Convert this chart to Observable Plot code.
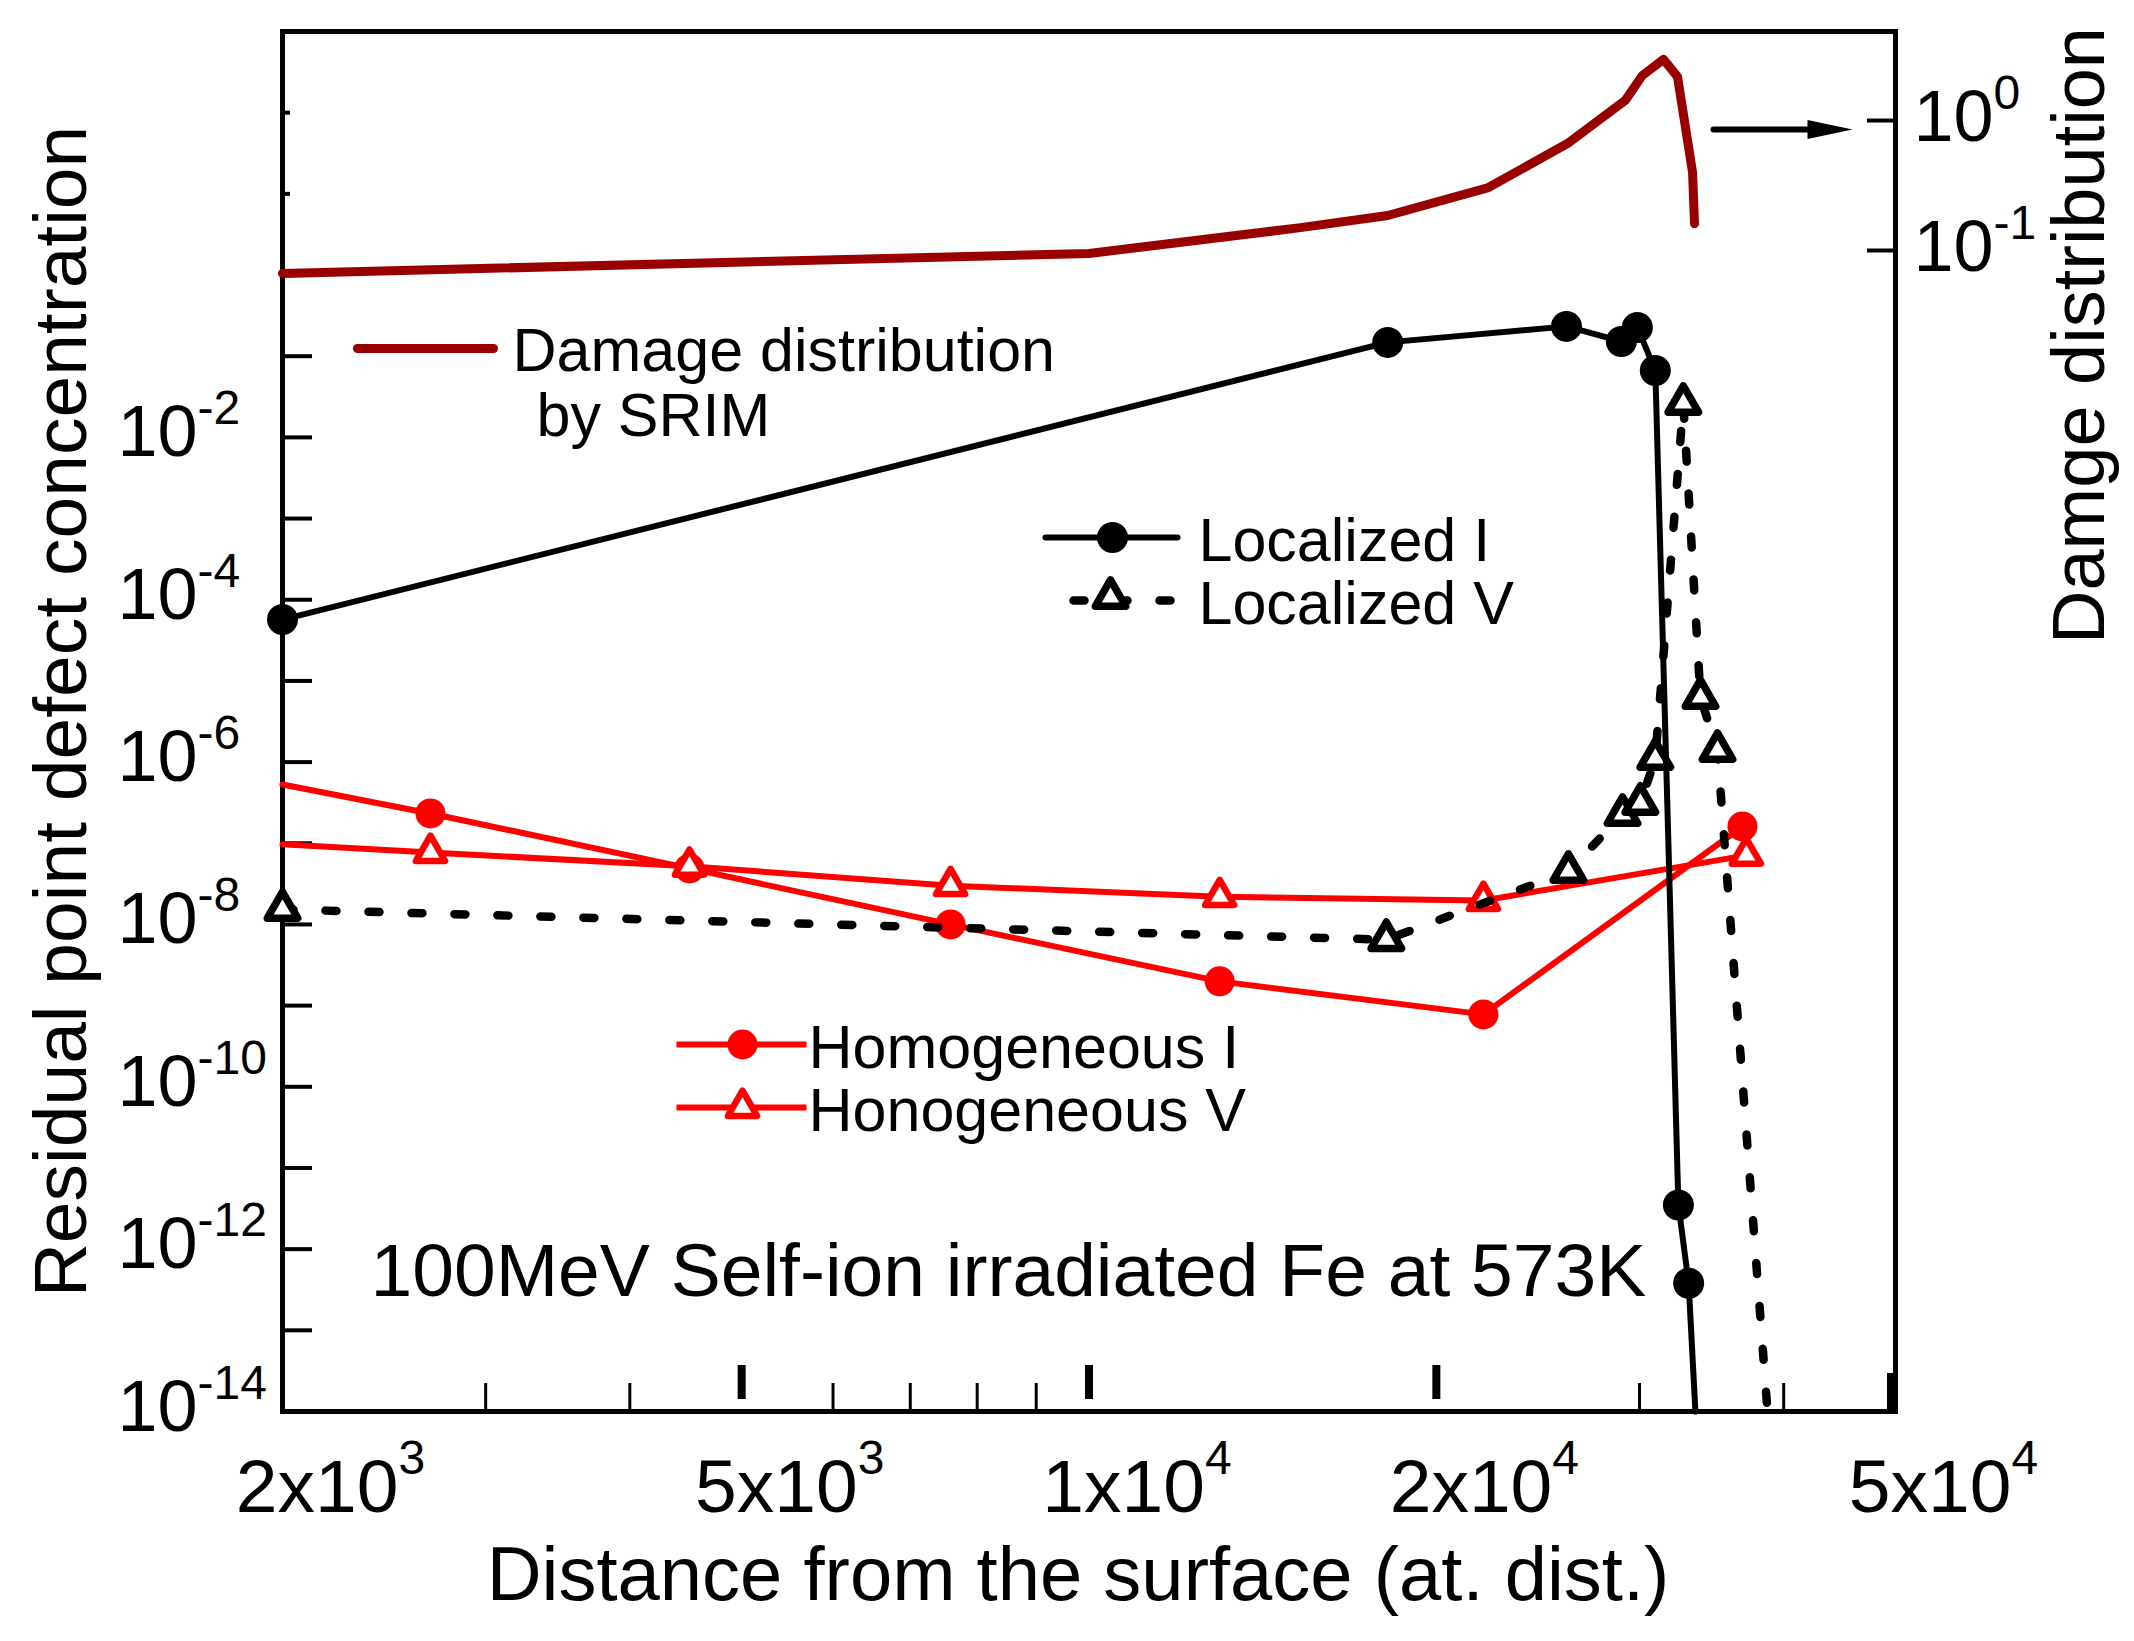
<!DOCTYPE html>
<html>
<head>
<meta charset="utf-8">
<script src="https://cdn.jsdelivr.net/npm/d3@7"></script>
<script src="https://cdn.jsdelivr.net/npm/@observablehq/plot@0.6"></script>
<style>
  html, body { margin: 0; padding: 0; background: #fff; }
  svg { display: block; }
</style>
</head>
<body>
<div id="chart"></div>
<script>
// ---------------- data ----------------
// Damage distribution by SRIM (right axis)
const damageX = [2000, 10000, 15250, 18150, 22190, 25980, 29160, 30170, 31470, 32360, 33350, 33480];
const damageY = [0.0666, 0.0948, 0.150, 0.186, 0.305, 0.665, 1.43, 2.22, 2.95, 2.18, 0.398, 0.161];

// Localized I (last point = where the line leaves the axis, no marker)
const locIX = [2000, 18150, 25930, 28930, 29870, 30960, 32420, 33090, 33540];
const locIY = [5.7e-5, 0.148, 0.233, 0.152, 0.226, 0.0668, 3.5e-12, 3.8e-13, 1e-14];

// Localized V (last point = where the line leaves the axis, no marker)
const locVX = [2000, 18100, 26030, 29000, 30050, 30960, 32740, 33880, 35050, 38730];
const locVY = [1.53e-8, 6.5e-9, 4.5e-8, 2.26e-7, 3.1e-7, 1.11e-6, 0.0262, 6.25e-6, 1.39e-6, 1e-14];

// Homogeneous I / V (first point = line start at the axis, no marker)
const homIX = [2000, 2687, 4506, 7586, 12980, 21970, 36840];
const homIY = [5.3e-7, 2.33e-7, 4.9e-8, 1.0e-8, 1.99e-9, 7.8e-10, 1.61e-7];
const homVX = [2000, 2687, 4506, 7586, 12980, 21970, 37130];
const homVY = [9.7e-8, 7.7e-8, 5.2e-8, 3.0e-8, 2.2e-8, 1.97e-8, 7.1e-8];

// axes
const xDomain = [2000, 50000];
const yDomain = [1e-14, 1e3];
const rightDomain = [1.17e-10, 4.84];
const xTickValues = [2000, 5000, 10000, 20000, 50000];
const xTickLabels = ["2x10^3", "5x10^3", "1x10^4", "2x10^4", "5x10^4"];
const xMajorTicks = [5000, 10000, 20000];
const xCornerTicks = [50000];
const xMinorTicks = [3000, 4000, 6000, 7000, 8000, 9000, 30000, 40000];
const yTickValues = [1e-14, 1e-12, 1e-10, 1e-8, 1e-6, 1e-4, 1e-2];
const yTickLabels = ["10^-14", "10^-12", "10^-10", "10^-8", "10^-6", "10^-4", "10^-2"];
const yLongTicks = [1e-14,1e-13,1e-12,1e-11,1e-10,1e-9,1e-8,1e-7,1e-6,1e-5,1e-4,1e-3,1e-2,1e-1];
const yShortTicks = [1, 10, 100];
const rightTickValues = [1, 0.1];
const rightTickLabels = ["10^0", "10^-1"];

// ---------------- layout ----------------
const W = 2134, H = 1641;
const mL = 282, mR = 239, mT = 31, mB = 230;
const innerW = W - mL - mR, innerH = H - mT - mB;
const FONT = '"Liberation Sans", Arial, Helvetica, sans-serif';

// map right-axis (damage) values into the left log scale
const lg = Math.log10;
const toLeft = d => Math.pow(10, lg(yDomain[0]) +
  (lg(d) - lg(rightDomain[0])) / (lg(rightDomain[1]) - lg(rightDomain[0])) * (lg(yDomain[1]) - lg(yDomain[0])));

const rows = (xs, ys) => xs.map((x, i) => ({x, y: ys[i], i, n: xs.length}));
const dam = rows(damageX, damageY);
const locI = rows(locIX, locIY);
const locV = rows(locVX, locVY);
const homI = rows(homIX, homIY);
const homV = rows(homVX, homVY);

const lineShape = {draw(ctx, l) { ctx.moveTo(0, 0); ctx.lineTo(0, -l); }};
const headShape = {draw(ctx, l) { ctx.moveTo(-9.5, 0); ctx.lineTo(0, -l); ctx.lineTo(9.5, 0); ctx.closePath(); }};

const RED = "#ff0000", DARKRED = "#990000";
const triBlack = {symbol: "triangle", r: 11.3, fill: "#fff", stroke: "#000", strokeWidth: 7.5, strokeLinejoin: "round"};
const triRed = {symbol: "triangle", r: 10.8, fill: "#fff", stroke: RED, strokeWidth: 6.5, strokeLinejoin: "round"};

const chart = Plot.plot({
  width: W, height: H,
  marginLeft: mL, marginRight: mR, marginTop: mT, marginBottom: mB,
  x: {type: "log", domain: xDomain, axis: null},
  y: {type: "log", domain: yDomain, axis: null},
  style: {fontFamily: FONT, background: "#fff", color: "#000"},
  marks: [
    // ticks
    Plot.ruleY(yLongTicks, {y: d => d, insetRight: innerW - 30, strokeWidth: 4}),
    Plot.ruleY(yShortTicks, {y: d => d, insetRight: innerW - 8, strokeWidth: 4}),
    Plot.ruleX(xMinorTicks, {x: d => d, insetTop: innerH - 28, strokeWidth: 3}),
    Plot.ruleX(xMajorTicks, {x: d => d, insetTop: innerH - 46, insetBottom: 12, strokeWidth: 8}),
    Plot.ruleX(xCornerTicks, {x: d => d, insetTop: innerH - 38, dx: -4, strokeWidth: 9}),
    Plot.ruleY(rightTickValues.map(toLeft), {y: d => d, insetLeft: innerW - 28, strokeWidth: 4}),
    Plot.frame({strokeWidth: 5}),

    // tick labels
    Plot.text(yTickValues, {y: d => d, text: (d, i) => yTickLabels[i], frameAnchor: "left", textAnchor: "start", lineAnchor: "middle", dx: -165, dy: -4, fontSize: 72}),
    Plot.text(xTickValues, {x: d => d, text: (d, i) => xTickLabels[i], frameAnchor: "bottom", textAnchor: "middle", lineAnchor: "bottom", dx: 48, dy: 100, fontSize: 75}),
    Plot.text(rightTickValues.map(toLeft), {y: d => d, text: (d, i) => rightTickLabels[i], frameAnchor: "right", textAnchor: "start", lineAnchor: "middle", dx: 18, dy: -3, fontSize: 72}),

    // axis titles
    Plot.text(["Residual point defect concentration"], {text: d => d, frameAnchor: "left", rotate: -90, textAnchor: "middle", lineAnchor: "bottom", dx: -197, dy: -10, fontSize: 75}),
    Plot.text(["Damge distribution"], {text: d => d, frameAnchor: "top-right", rotate: -90, textAnchor: "middle", lineAnchor: "bottom", dx: 208, dy: 304, fontSize: 74}),
    Plot.text(["Distance from the surface (at. dist.)"], {text: d => d, frameAnchor: "bottom", textAnchor: "middle", lineAnchor: "bottom", dx: -11, dy: 188, fontSize: 76}),

    // damage distribution (right axis)
    Plot.line(dam, {x: "x", y: d => toLeft(d.y), stroke: DARKRED, strokeWidth: 9, strokeLinejoin: "round", strokeLinecap: "round"}),

    // homogeneous
    Plot.line(homI, {x: "x", y: "y", stroke: RED, strokeWidth: 6}),
    Plot.line(homV, {x: "x", y: "y", stroke: RED, strokeWidth: 6}),
    Plot.dot(homI, {x: "x", y: "y", filter: d => d.i > 0, r: 15, fill: RED}),
    Plot.dot(homV, {x: "x", y: "y", filter: d => d.i > 0, ...triRed}),

    // localized
    Plot.line(locV, {x: "x", y: "y", stroke: "#000", strokeWidth: 8.5, strokeDasharray: "11,32", strokeLinecap: "round"}),
    Plot.dot(locV, {x: "x", y: "y", filter: d => d.i < d.n - 1, ...triBlack}),
    Plot.line(locI, {x: "x", y: "y", stroke: "#000", strokeWidth: 6}),
    Plot.dot(locI, {x: "x", y: "y", filter: d => d.i < d.n - 1, r: 15.5, fill: "#000"}),

    // legend: damage
    Plot.vector([0], {frameAnchor: "top-left", dx: 75, dy: 317, length: 136, rotate: 90, anchor: "start", shape: lineShape, stroke: DARKRED, strokeWidth: 9, strokeLinecap: "round"}),
    Plot.text(["Damage distribution"], {text: d => d, frameAnchor: "top-left", textAnchor: "start", lineAnchor: "bottom", dx: 230, dy: 339, fontSize: 61}),
    Plot.text(["by SRIM"], {text: d => d, frameAnchor: "top-left", textAnchor: "start", lineAnchor: "bottom", dx: 254, dy: 404, fontSize: 61}),

    // legend: localized
    Plot.vector([0], {frameAnchor: "top-left", dx: 763, dy: 506, length: 132, rotate: 90, anchor: "start", shape: lineShape, stroke: "#000", strokeWidth: 6, strokeLinecap: "round"}),
    Plot.dot([0], {frameAnchor: "top-left", dx: 830, dy: 506, r: 15.5, fill: "#000"}),
    Plot.text(["Localized I"], {text: d => d, frameAnchor: "top-left", textAnchor: "start", lineAnchor: "bottom", dx: 916, dy: 529, fontSize: 61}),
    Plot.vector([0], {frameAnchor: "top-left", dx: 791, dy: 569, length: 104, rotate: 90, anchor: "start", shape: lineShape, stroke: "#000", strokeWidth: 8.5, strokeDasharray: "11,32", strokeLinecap: "round"}),
    Plot.dot([0], {frameAnchor: "top-left", dx: 828, dy: 566, ...triBlack}),
    Plot.text(["Localized V"], {text: d => d, frameAnchor: "top-left", textAnchor: "start", lineAnchor: "bottom", dx: 916, dy: 592, fontSize: 61}),

    // legend: homogeneous
    Plot.vector([0], {frameAnchor: "top-left", dx: 394, dy: 1013, length: 130, rotate: 90, anchor: "start", shape: lineShape, stroke: RED, strokeWidth: 6, strokeLinecap: "butt"}),
    Plot.dot([0], {frameAnchor: "top-left", dx: 460, dy: 1013, r: 15, fill: RED}),
    Plot.text(["Homogeneous I"], {text: d => d, frameAnchor: "top-left", textAnchor: "start", lineAnchor: "bottom", dx: 526, dy: 1036, fontSize: 61}),
    Plot.vector([0], {frameAnchor: "top-left", dx: 394, dy: 1076, length: 130, rotate: 90, anchor: "start", shape: lineShape, stroke: RED, strokeWidth: 6, strokeLinecap: "butt"}),
    Plot.dot([0], {frameAnchor: "top-left", dx: 460, dy: 1076, ...triRed}),
    Plot.text(["Honogeneous V"], {text: d => d, frameAnchor: "top-left", textAnchor: "start", lineAnchor: "bottom", dx: 526, dy: 1099, fontSize: 61}),

    // annotation
    Plot.text(["100MeV Self-ion irradiated Fe at 573K"], {text: d => d, frameAnchor: "bottom-left", textAnchor: "start", lineAnchor: "bottom", dx: 88, dy: -116, fontSize: 75}),

    // arrow pointing to the right axis
    Plot.vector([0], {frameAnchor: "top-left", dx: 1431, dy: 98, length: 96, rotate: 90, anchor: "start", shape: lineShape, stroke: "#000", strokeWidth: 6, strokeLinecap: "round"}),
    Plot.vector([0], {frameAnchor: "top-left", dx: 1525, dy: 98, length: 45, rotate: 90, anchor: "start", shape: headShape, stroke: "none", fill: "#000"})
  ]
});

// superscripts for "10^n" style labels
const NS = "http://www.w3.org/2000/svg";
chart.querySelectorAll("text").forEach(t => {
  const s = t.textContent;
  if (!s.includes("^")) return;
  const [base, exp] = s.split("^");
  const shift = s.includes("x") ? 38 : 32;
  t.textContent = "";
  const b = document.createElementNS(NS, "tspan");
  b.textContent = base;
  t.appendChild(b);
  const e = document.createElementNS(NS, "tspan");
  e.textContent = exp;
  e.setAttribute("font-size", "48");
  e.setAttribute("dy", String(-shift));
  t.appendChild(e);
});

document.getElementById("chart").appendChild(chart);
</script>
</body>
</html>
